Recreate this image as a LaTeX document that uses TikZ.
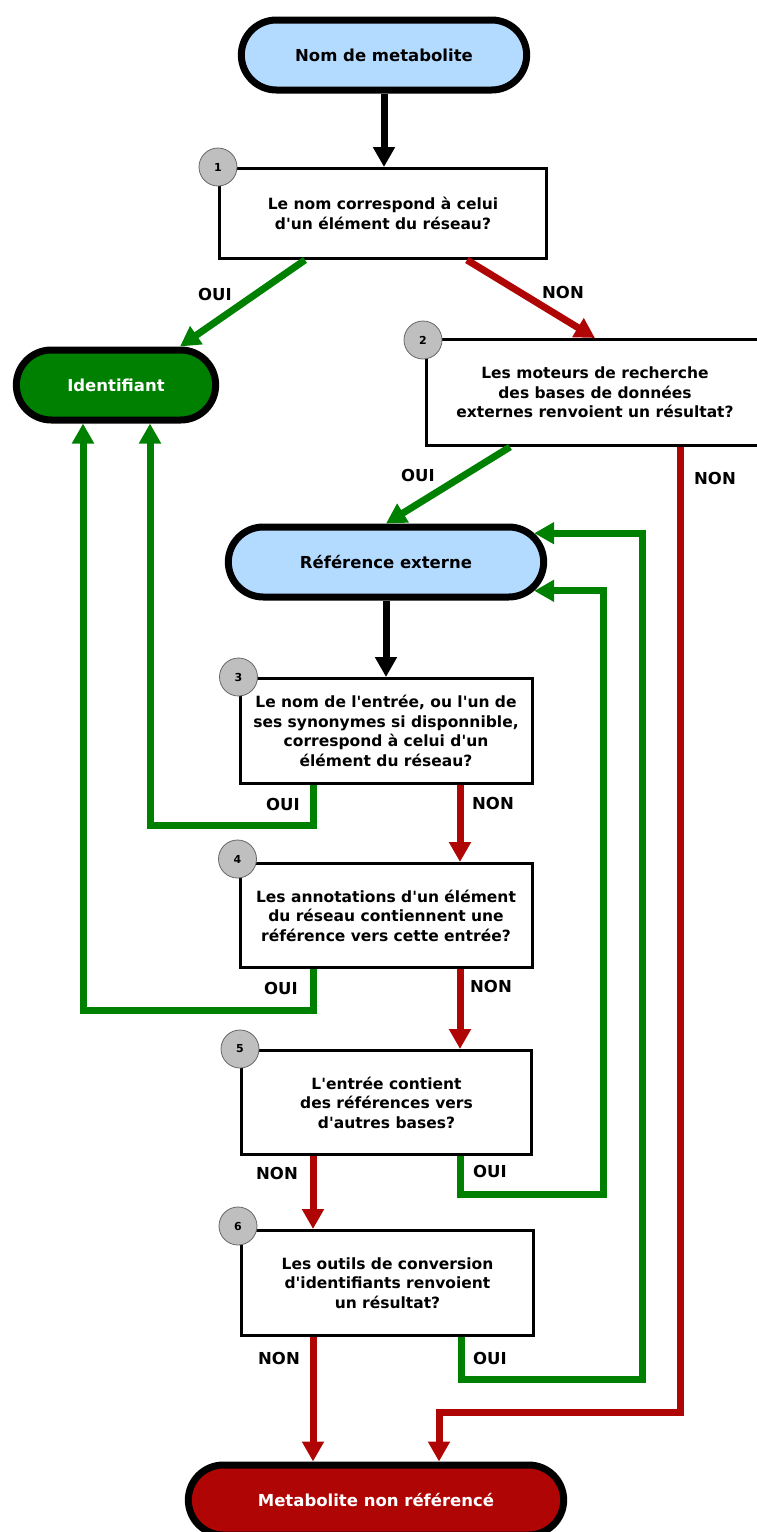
\documentclass[tikz,border=0pt]{standalone}
\usepackage{fontspec}
\setmainfont{DejaVu Sans}
\usetikzlibrary{arrows.meta, positioning, shapes.misc}
\definecolor{termblue}{HTML}{B3DAFF}
\definecolor{yesgreen}{HTML}{008000}
\definecolor{nored}{HTML}{B00505}

\begin{document}
\begin{tikzpicture}[x=1pt, y=-1pt,
    term/.style={rounded rectangle, draw, line width=7pt, minimum height=70pt,
                 font=\fontsize{16.5}{19}\selectfont\bfseries},
    qbox/.style={rectangle, draw, line width=3pt, fill=white, align=center,
                 font=\fontsize{15.5}{19.6}\selectfont\bfseries},
    num/.style={circle, draw=black!60, line width=0.8pt, fill=gray!50,
                minimum size=38pt, inner sep=0pt, font=\fontsize{11}{11}\selectfont\bfseries},
    lbl/.style={font=\fontsize{16.5}{20}\selectfont\bfseries},
    arrow/.style={line width=7pt, -{Triangle[length=20pt, width=21pt]}},
    yesarrow/.style={arrow, yesgreen},
    noarrow/.style={arrow, nored},
]
\useasboundingbox (0,0) rectangle (757,1532);
% Terminals
\node[term, fill=termblue, minimum width=292pt] (start) at (384,55) {Nom de metabolite};
\node[term, fill=yesgreen, text=white, minimum width=206pt] (idf) at (116,385) {Identifiant};
\node[term, fill=termblue, minimum width=322pt] (ref) at (386,562) {Référence externe};
\node[term, fill=nored, text=white, minimum width=382pt] (end) at (376,1500) {Metabolite non référencé};
% Questions
\node[qbox, minimum width=327pt, minimum height=90pt] (q1) at (383,213.5)
    {Le nom correspond à celui\\d\textquotesingle un élément du réseau?};
\node[qbox, minimum width=337pt, minimum height=106pt] (q2) at (595,392.5)
    {Les moteurs de recherche\\des bases de données\\externes renvoient un résultat?};
\node[qbox, minimum width=292pt, minimum height=105pt] (q3) at (386,731)
    {Le nom de l\textquotesingle entrée, ou l\textquotesingle un de\\ses synonymes si disponnible,\\correspond à celui d\textquotesingle un\\élément du réseau?};
\node[qbox, minimum width=292pt, minimum height=104pt] (q4) at (386,915.5)
    {Les annotations d\textquotesingle un élément\\du réseau contiennent une\\référence vers cette entrée?};
\node[qbox, minimum width=290pt, minimum height=104pt] (q5) at (386.5,1102.5)
    {L\textquotesingle entrée contient\\des références vers\\d\textquotesingle autres bases?};
\node[qbox, minimum width=292pt, minimum height=105pt] (q6) at (387.5,1283)
    {Les outils de conversion\\d\textquotesingle identifiants renvoient\\un résultat?};
% Step numbers
\node[num] (n1) at (q1.north west) {1};
\node[num] (n2) at ([shift={(-2pt,-2pt)}]q2.north west) {2};
\node[num] (n3) at (q3.north west) {3};
\node[num] (n4) at ([shift={(-1pt,3pt)}]q4.north west) {4};
\node[num] (n5) at (q5.north west) {5};
\node[num] (n6) at ([shift={(-2pt,3pt)}]q6.north west) {6};

% Main flow
\draw[arrow] (start.south) -- (start.south |- q1.north);
\draw[yesarrow] ([xshift=-78pt]q1.south) -- ([xshift=64pt]idf.north);
\draw[noarrow] ([xshift=84pt]q1.south) -- (q2.north);
\draw[yesarrow] ([xshift=-85pt]q2.south) -- (ref.north);
\draw[noarrow] ([xshift=85pt]q2.south) |- ([shift={(63pt,49pt)}]end.north) -- ([xshift=63pt]end.north);
\draw[arrow] (ref.south) -- (ref.south |- q3.north);
% Back to Identifiant
\draw[yesarrow] ([xshift=-73pt]q3.south) -- ++(0,40) -| ([xshift=34pt]idf.south);
\draw[yesarrow] ([xshift=-73pt]q4.south) -- ++(0,41) -| ([xshift=-33pt]idf.south);
% Down the chain
\draw[noarrow] ([xshift=74pt]q3.south) -- ([xshift=74pt]q4.north);
\draw[noarrow] ([xshift=74pt]q4.south) -- ([xshift=73.5pt]q5.north);
\draw[noarrow] ([xshift=-73.5pt]q5.south) -- ([xshift=-74.5pt]q6.north);
\draw[noarrow] ([xshift=-74.5pt]q6.south) -- ([xshift=-63pt]end.north);
% Back to Reference externe
\draw[yesarrow] ([xshift=73.5pt]q5.south) -- ++(0,38) -- ++(143,0) |- (ref.-11);
\draw[yesarrow] ([xshift=73.5pt]q6.south) -- ++(0,42) -- ++(181,0) |- (ref.11);

% Labels
\node[lbl] (l1y) at (215,294) {OUI};
\node[lbl] (l1n) at (563,292) {NON};
\node[lbl] (l2y) at (418,475) {OUI};
\node[lbl] (l2n) at (715,478) {NON};
\node[lbl] (l3y) at (283,804) {OUI};
\node[lbl] (l3n) at (493,803) {NON};
\node[lbl] (l4y) at (281,988) {OUI};
\node[lbl] (l4n) at (491,986) {NON};
\node[lbl] (l5n) at (277,1173) {NON};
\node[lbl] (l5y) at (490,1171) {OUI};
\node[lbl] (l6n) at (279,1358) {NON};
\node[lbl] (l6y) at (490,1358) {OUI};
\end{tikzpicture}
\end{document}
